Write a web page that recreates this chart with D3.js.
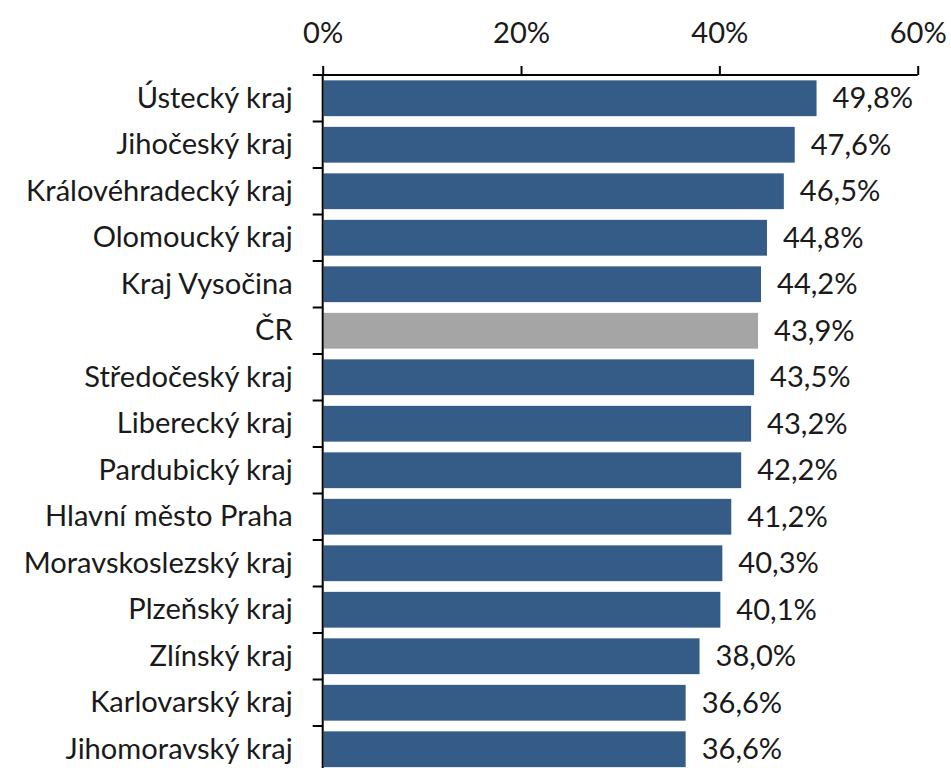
<!DOCTYPE html>
<html>
<head>
<meta charset="utf-8">
<script src="https://cdn.jsdelivr.net/npm/d3@7"></script>
<style>
  html, body { margin: 0; padding: 0; background: #ffffff; }
  svg { display: block; }
</style>
</head>
<body>
<svg id="chart" width="951" height="768"></svg>
<script>
const categories = ["Ústecký kraj","Jihočeský kraj","Královéhradecký kraj","Olomoucký kraj","Kraj Vysočina","ČR","Středočeský kraj","Liberecký kraj","Pardubický kraj","Hlavní město Praha","Moravskoslezský kraj","Plzeňský kraj","Zlínský kraj","Karlovarský kraj","Jihomoravský kraj"];
const values = [49.8,47.6,46.5,44.8,44.2,43.9,43.5,43.2,42.2,41.2,40.3,40.1,38.0,36.6,36.6];
const highlight = ["ČR"];
const xTicks = [0,20,40,60];

const FONT = "Lato, 'Open Sans', sans-serif";
const svg = d3.select("#chart");

// fit font size so the longest label matches the reference width
const probe = svg.append("text").attr("font-family", FONT).attr("font-size", 100).text("Královéhradecký kraj");
const w100 = probe.node().getComputedTextLength();
probe.remove();
const fs = Math.round(100 * 267 / w100 * 10) / 10;

const x = d3.scaleLinear().domain([0, 60]).range([322.7, 917.7]);
const y = d3.scaleBand().domain(categories).range([75, 772.5]).paddingInner(0.23).paddingOuter(0.115);

// bars
svg.append("g").selectAll("rect").data(categories).join("rect")
  .attr("x", x(0) + 1)
  .attr("y", d => y(d))
  .attr("width", (d, i) => x(values[i]) - x(0) - 1)
  .attr("height", y.bandwidth())
  .attr("fill", d => highlight.includes(d) ? "#a5a5a5" : "#345c86");

// value labels
const fmt = v => d3.format(".1f")(v).replace(".", ",") + "%";
svg.append("g").selectAll("text").data(categories).join("text")
  .attr("x", (d, i) => x(values[i]) + 16)
  .attr("y", d => y(d) + y.bandwidth() / 2)
  .attr("dy", "0.35em")
  .attr("font-family", FONT)
  .attr("font-size", fs)
  .attr("fill", "#1a1a1a")
  .text((d, i) => fmt(values[i]));

// x axis (top)
const xAxis = svg.append("g")
  .attr("transform", "translate(0,75)")
  .call(d3.axisTop(x).tickValues(xTicks).tickSize(9).tickPadding(23).tickFormat(d => d + "%"));
xAxis.select(".domain").attr("stroke", "#000").attr("stroke-width", 2).attr("d", `M${x(0)},0H${x(60)}`);
xAxis.selectAll(".tick line").attr("stroke", "#000").attr("stroke-width", 2);
xAxis.selectAll(".tick text").attr("font-family", FONT).attr("font-size", fs).attr("fill", "#1a1a1a");

// y axis (left) with boundary ticks
const yAxis = svg.append("g")
  .attr("transform", `translate(${x(0)},0)`)
  .call(d3.axisLeft(y).tickSize(0).tickPadding(30));
yAxis.select(".domain").attr("stroke", "#000").attr("stroke-width", 2).attr("d", `M0,${y.range()[0]}V${y.range()[1]}`);
yAxis.selectAll(".tick text").attr("font-family", FONT).attr("font-size", fs).attr("fill", "#1a1a1a");
const step = y.step();
const boundaries = d3.range(categories.length + 1).map(k => y.range()[0] + k * step);
yAxis.append("g").selectAll("line").data(boundaries).join("line")
  .attr("x1", -10).attr("x2", 0)
  .attr("y1", d => d).attr("y2", d => d)
  .attr("stroke", "#000").attr("stroke-width", 2);
</script>
</body>
</html>
